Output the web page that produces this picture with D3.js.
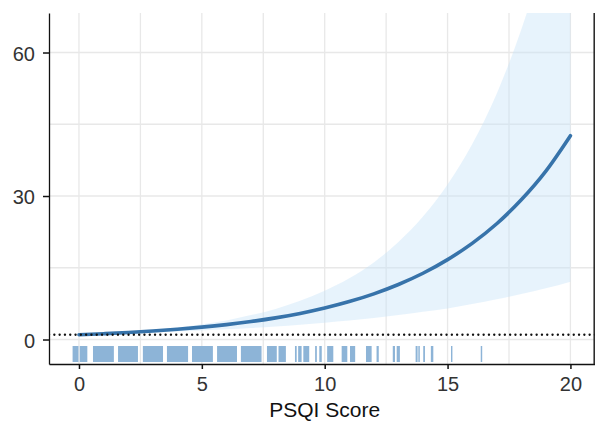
<!DOCTYPE html>
<html>
<head>
<meta charset="utf-8">
<script src="https://cdn.jsdelivr.net/npm/d3@7"></script>
<style>
  html, body { margin: 0; padding: 0; background: #fff; }
  svg { display: block; font-family: "Liberation Sans", Arial, Helvetica, sans-serif; }
</style>
</head>
<body>
<svg id="chart" width="595" height="421"></svg>
<script>
// Odds ratio by PSQI score with 95% confidence band
const psqi     = [0, 1, 2, 3, 4, 5, 6, 7, 8, 9, 10, 11, 12, 13, 14, 15, 16, 17, 18, 19, 20];
const estimate = [1.0, 1.21, 1.46, 1.77, 2.14, 2.58, 3.11, 3.75, 4.52, 5.45, 6.58, 7.93, 9.55, 11.5, 13.85, 16.7, 20.1, 24.2, 29.2, 35.2, 42.6];
const lower    = [1.0, 1.13, 1.28, 1.45, 1.65, 1.87, 2.12, 2.4, 2.7, 3.1, 3.5, 3.95, 4.5, 5.1, 5.8, 6.5, 7.4, 8.4, 9.5, 10.7, 12.1];
const upper    = [1.0, 1.26, 1.59, 2.0, 2.5, 3.2, 4.0, 5.1, 6.4, 8.1, 10.2, 12.8, 16.1, 20.4, 25.7, 32.4, 40.8, 51.4, 64.8, 81.6, 103];
const refValue = 1;

// Observed (jittered) PSQI scores, as covered intervals along the axis
const rugSpans = [
  [-0.26, -0.02], [0.03, 0.34],
  [0.57, 1.42], [1.59, 2.40], [2.60, 3.42], [3.58, 4.44], [4.60, 5.45],
  [5.62, 6.43], [6.59, 7.43], [7.65, 8.05], [8.12, 8.42],
  [8.79, 8.86], [8.92, 9.06], [9.13, 9.37],
  [9.61, 9.68], [9.78, 9.88], [10.10, 10.35],
  [10.69, 10.92], [11.03, 11.24],
  [11.68, 11.91], [12.11, 12.20],
  [12.77, 12.86], [12.93, 13.06],
  [13.70, 13.78], [13.81, 13.87], [14.01, 14.08], [14.32, 14.42],
  [15.14, 15.19],
  [16.35, 16.41]
];

const xTicks = [0, 5, 10, 15, 20];
const xMinor = [2.5, 7.5, 12.5, 17.5];
const yTicks = [0, 30, 60];
const yMinor = [15, 45];
const xTitle = "PSQI Score";

const svg = d3.select("#chart");
const panel = { left: 49, top: 13, right: 595, bottom: 364 };

const x = d3.scaleLinear().domain([-1.22, 21.0]).range([panel.left, panel.right]);
const y = d3.scaleLinear().domain([-5.12, 68.26]).range([panel.bottom, panel.top]);

svg.append("defs").append("clipPath").attr("id", "panel-clip")
  .append("rect")
  .attr("x", panel.left).attr("y", panel.top)
  .attr("width", panel.right - panel.left).attr("height", panel.bottom - panel.top);

// grid
const grid = svg.append("g").attr("stroke", "#e8e8e8").attr("stroke-width", 1.3);
grid.selectAll("line.vx").data(xTicks.concat(xMinor)).join("line")
  .attr("x1", d => x(d)).attr("x2", d => x(d))
  .attr("y1", panel.top).attr("y2", panel.bottom);
grid.selectAll("line.hy").data(yTicks.concat(yMinor)).join("line")
  .attr("x1", panel.left).attr("x2", panel.right)
  .attr("y1", d => y(d)).attr("y2", d => y(d));

const plot = svg.append("g").attr("clip-path", "url(#panel-clip)");

const rows = psqi.map((p, i) => ({ p, est: estimate[i], lo: lower[i], hi: upper[i] }));

// confidence band
plot.append("path")
  .datum(rows)
  .attr("fill", "#c6e2f7")
  .attr("fill-opacity", 0.42)
  .attr("d", d3.area().curve(d3.curveMonotoneX)
    .x(d => x(d.p)).y0(d => y(d.lo)).y1(d => y(d.hi)));

// estimate
plot.append("path")
  .datum(rows)
  .attr("fill", "none")
  .attr("stroke", "#3773aa")
  .attr("stroke-width", 3.6)
  .attr("stroke-linecap", "round")
  .attr("d", d3.line().curve(d3.curveMonotoneX).x(d => x(d.p)).y(d => y(d.est)));

// reference line at OR = 1
plot.append("line")
  .attr("x1", panel.left).attr("x2", panel.right)
  .attr("y1", y(refValue)).attr("y2", y(refValue))
  .attr("stroke", "#111")
  .attr("stroke-width", 2.3)
  .attr("stroke-dasharray", "0.1,5.2")
  .attr("stroke-linecap", "round");

// rug
plot.append("g").attr("fill", "#8db4d7")
  .selectAll("rect").data(rugSpans).join("rect")
  .attr("x", d => x(d[0]))
  .attr("width", d => Math.max(1.4, x(d[1]) - x(d[0])))
  .attr("y", panel.bottom - 18)
  .attr("height", 16);

// axes
const yAxis = svg.append("g")
  .attr("transform", `translate(${panel.left},0)`)
  .call(d3.axisLeft(y).tickValues(yTicks).tickSize(6).tickPadding(8).tickSizeOuter(0));
const xAxis = svg.append("g")
  .attr("transform", `translate(0,${panel.bottom})`)
  .call(d3.axisBottom(x).tickValues(xTicks).tickSize(5).tickPadding(8).tickSizeOuter(0));

[yAxis, xAxis].forEach(ax => {
  ax.select(".domain").attr("stroke", "#111").attr("stroke-width", 1.3);
  ax.selectAll(".tick line").attr("stroke", "#111").attr("stroke-width", 1.5);
  ax.selectAll(".tick text")
    .attr("fill", "#333")
    .attr("font-size", 20)
    .attr("font-family", "\"Liberation Sans\", Arial, Helvetica, sans-serif");
});
yAxis.selectAll(".tick text").attr("dy", "0.38em");

// right frame edge
svg.append("line")
  .attr("x1", 594.2).attr("x2", 594.2)
  .attr("y1", panel.top).attr("y2", panel.bottom)
  .attr("stroke", "#222").attr("stroke-width", 1.5);

// axis title
svg.append("text")
  .attr("x", x(10))
  .attr("y", 417)
  .attr("text-anchor", "middle")
  .attr("font-size", 21)
  .attr("fill", "#111")
  .text(xTitle);
</script>
</body>
</html>
